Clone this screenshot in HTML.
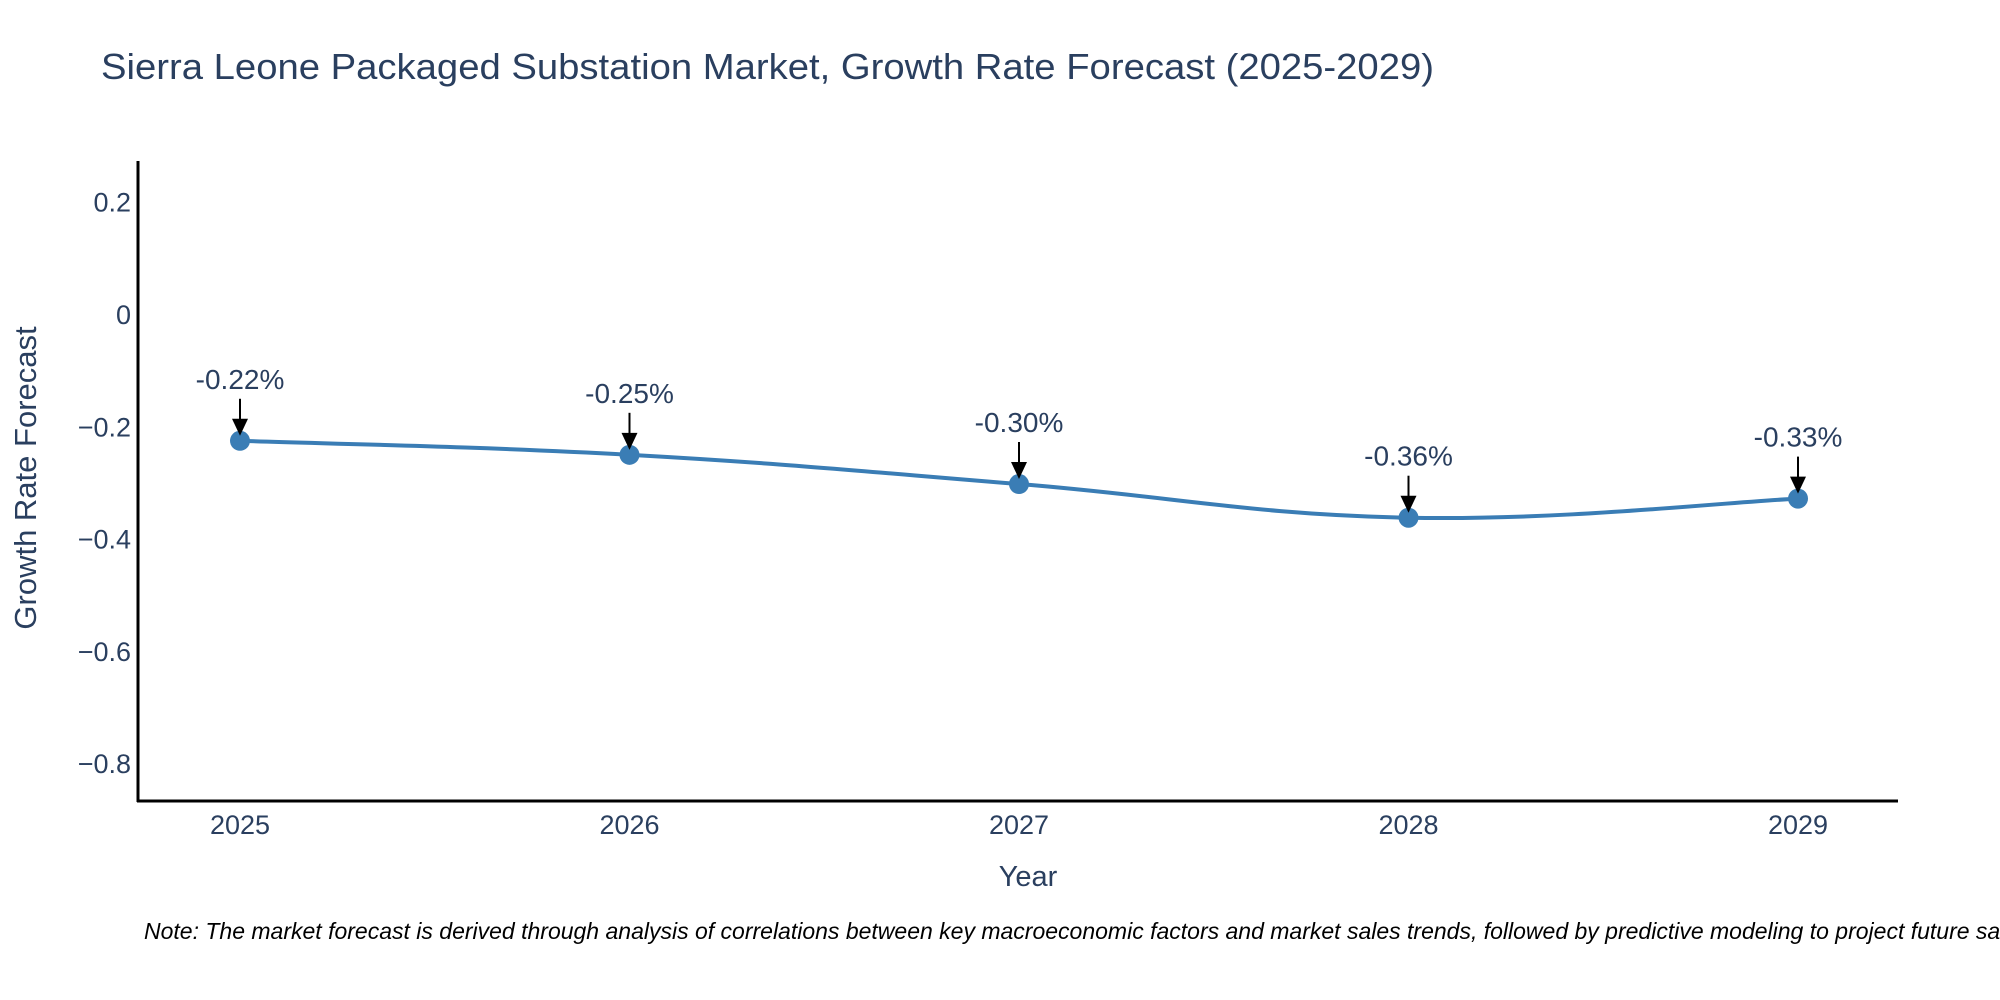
<!DOCTYPE html>
<html><head><meta charset="utf-8"><style>
html,body{margin:0;padding:0;background:#fff;overflow:hidden;}
svg{display:block;font-family:"Liberation Sans",sans-serif;}
</style></head><body>
<svg id="chart" width="2000" height="1000" viewBox="0 0 2000 1000">
<rect width="2000" height="1000" fill="#fff"/>
<text x="101" y="79" font-size="36" fill="#2a3f5f" textLength="1333" lengthAdjust="spacingAndGlyphs">Sierra Leone Packaged Substation Market, Growth Rate Forecast (2025-2029)</text>
<g id="yticks"></g>
<g id="xticks"></g>
<line x1="138" y1="161" x2="138" y2="802" stroke="#000" stroke-width="3"/>
<line x1="137" y1="801" x2="1898" y2="801" stroke="#000" stroke-width="3"/>
<text transform="translate(36,478) rotate(-90)" text-anchor="middle" font-size="31" fill="#2a3f5f">Growth Rate Forecast</text>
<text x="1028" y="886" text-anchor="middle" font-size="29" fill="#2a3f5f">Year</text>
<g id="series"></g>
<g id="annots"></g>
<text x="144" y="939" font-size="23" font-style="italic" fill="#000">Note: The market forecast is derived through analysis of correlations between key macroeconomic factors and market sales trends, followed by predictive modeling to project future sales.</text>
</svg>
<script>
const years = [2025, 2026, 2027, 2028, 2029];
const growth = [-0.224, -0.249, -0.301, -0.361, -0.327];
const labels = ["-0.22%", "-0.25%", "-0.30%", "-0.36%", "-0.33%"];
const yTicks = [0.2, 0, -0.2, -0.4, -0.6, -0.8];
const yTickLabels = ["0.2", "0", "\u22120.2", "\u22120.4", "\u22120.6", "\u22120.8"];

const NS = "http://www.w3.org/2000/svg";
function xScale(yr){ return 240 + (yr - 2025) * 389.5; }
function yScale(v){ return 315 - v * 561.5; }
function mk(tag, attrs, parent){
  const e = document.createElementNS(NS, tag);
  for (const k in attrs) e.setAttribute(k, attrs[k]);
  parent.appendChild(e);
  return e;
}
const yt = document.getElementById('yticks');
yTicks.forEach((v, i) => {
  const t = mk('text', {x: 131, y: yScale(v) + 9, 'text-anchor': 'end', 'font-size': 27, fill: '#2a3f5f'}, yt);
  
  
  t.textContent = yTickLabels[i];
});
const xt = document.getElementById('xticks');
years.forEach(yr => {
  const t = mk('text', {x: xScale(yr), y: 834, 'text-anchor': 'middle', 'font-size': 27, fill: '#2a3f5f'}, xt);
  
  
  t.textContent = String(yr);
});
const pts = years.map((yr, i) => [xScale(yr), yScale(growth[i])]);
let d = `M${pts[0][0]},${pts[0][1]}`;
const tension = 0.2;
for (let i = 0; i < pts.length - 1; i++) {
  const p0 = pts[Math.max(0, i - 1)], p1 = pts[i], p2 = pts[i + 1], p3 = pts[Math.min(pts.length - 1, i + 2)];
  const c1 = [p1[0] + (p2[0] - p0[0]) * tension, p1[1] + (p2[1] - p0[1]) * tension];
  const c2 = [p2[0] - (p3[0] - p1[0]) * tension, p2[1] - (p3[1] - p1[1]) * tension];
  d += ` C${c1[0]},${c1[1]} ${c2[0]},${c2[1]} ${p2[0]},${p2[1]}`;
}
const s = document.getElementById('series');
const line = mk('path', {d: d, fill: 'none', stroke: '#3a7db5', 'stroke-width': 4}, s);


pts.forEach(p => {
  const c = mk('circle', {cx: p[0], cy: p[1], r: 10, fill: '#3a7db5'}, s);
  
  
});
const an = document.getElementById('annots');
pts.forEach((p, i) => {
  const l = mk('line', {x1: p[0], y1: p[1] - 42, x2: p[0], y2: p[1] - 18, stroke: '#000', 'stroke-width': 2}, an);
  
  
  const h = mk('polygon', {points: `${p[0]-8},${p[1]-22} ${p[0]+8},${p[1]-22} ${p[0]},${p[1]-5}`, fill: '#000'}, an);
  
  
  const t = mk('text', {x: p[0], y: p[1] - 52, 'text-anchor': 'middle', 'font-size': 28, fill: '#2a3f5f'}, an);
  
  
  t.textContent = labels[i];
});
</script>
</body></html>
